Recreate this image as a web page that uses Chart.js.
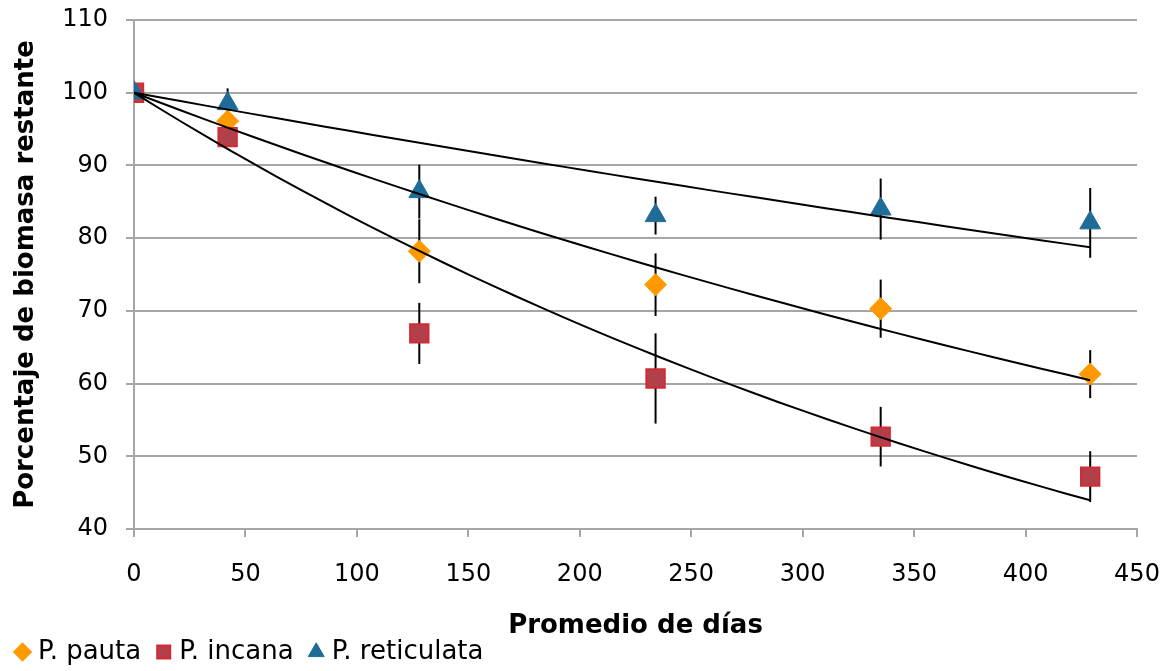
<!DOCTYPE html>
<html>
<head>
<meta charset="utf-8">
<script src="https://cdn.jsdelivr.net/npm/chart.js@4.4.0/dist/chart.umd.min.js"></script>
<style>
    html, body { margin: 0; padding: 0; background: #fff; }
    #wrap { width: 1175px; height: 671px; }
</style>
</head>
<body>
<div id="wrap"><canvas id="chart"></canvas></div>
<script>
// days since start, and % biomass remaining (mean +/- error) per species
const days = [0, 42, 128, 234, 335, 429];
const pauta = [100, 96.1, 78.2, 73.6, 70.3, 61.3];
const pautaErr = [0, 1.2, 4.4, 4.3, 4.0, 3.3];
const incana = [100, 93.9, 66.9, 60.7, 52.7, 47.2];
const incanaErr = [0, 1.0, 4.2, 6.2, 4.1, 3.5];
const reticulata = [100, 98.5, 86.4, 83.1, 84.0, 82.1];
const reticulataErr = [0, 2.1, 3.7, 2.6, 4.2, 4.8];
const seriesNames = ['P. pauta', 'P. incana', 'P. reticulata'];
const xTitle = 'Promedio de días';
const yTitle = 'Porcentaje de biomasa restante';

const FONT = 'DejaVu Sans, Verdana, sans-serif';
const GRID = '#a6a6a6';

// exponential trendline with intercept fixed at 100 (like the Excel fit)
function trendline(values) {
    let sxy = 0, sxx = 0;
    days.forEach((d, i) => {
        sxy += d * Math.log(values[i] / 100);
        sxx += d * d;
    });
    const k = sxy / sxx;
    const last = days[days.length - 1];
    const pts = [];
    for (let i = 0; i <= 40; i++) {
        const x = last * i / 40;
        pts.push({ x: x, y: 100 * Math.exp(k * x) });
    }
    return pts;
}

function toPoints(values) {
    return days.map((d, i) => ({ x: d, y: values[i] }));
}

const errors = [pautaErr, incanaErr, reticulataErr];

// vertical error bars, drawn under the markers
const errorBars = {
    id: 'errorBars',
    beforeDatasetsDraw(chart) {
        const ctx = chart.ctx;
        const xs = chart.scales.x;
        const ys = chart.scales.y;
        ctx.save();
        ctx.strokeStyle = '#000';
        ctx.lineWidth = 2;
        [pauta, incana, reticulata].forEach((vals, s) => {
            vals.forEach((v, i) => {
                const e = errors[s][i];
                if (!e) return;
                const px = xs.getPixelForValue(days[i]);
                ctx.beginPath();
                ctx.moveTo(px, ys.getPixelForValue(v + e));
                ctx.lineTo(px, ys.getPixelForValue(v - e));
                ctx.stroke();
            });
        });
        ctx.restore();
    }
};

function trendSet(values) {
    return {
        label: '',
        data: trendline(values),
        showLine: true,
        borderColor: '#000',
        borderWidth: 2,
        pointRadius: 0,
        order: 0
    };
}

new Chart(document.getElementById('chart'), {
    type: 'scatter',
    data: {
        datasets: [
            {
                label: seriesNames[0],
                data: toPoints(pauta),
                pointStyle: 'rectRot',
                pointRadius: 11,
                backgroundColor: '#ff9900',
                borderColor: '#ff9900',
                borderWidth: 1,
                order: 3
            },
            {
                label: seriesNames[1],
                data: toPoints(incana),
                pointStyle: 'rect',
                pointRadius: 13,
                backgroundColor: '#b2404a',
                borderColor: '#d42a35',
                borderWidth: 2,
                order: 2
            },
            {
                label: seriesNames[2],
                data: toPoints(reticulata),
                pointStyle: 'triangle',
                pointRadius: 12,
                backgroundColor: '#1f6c98',
                borderColor: '#1f6c98',
                borderWidth: 1,
                order: 1
            },
            trendSet(pauta),
            trendSet(incana),
            trendSet(reticulata)
        ]
    },
    options: {
        responsive: true,
        maintainAspectRatio: false,
        animation: false,
        events: [],
        layout: { padding: { left: 0, right: 38, top: 20, bottom: -4 } },
        plugins: {
            tooltip: { enabled: false },
            legend: {
                position: 'bottom',
                align: 'start',
                labels: {
                    usePointStyle: true,
                    boxWidth: 5,
                    boxHeight: 13,
                    padding: 20,
                    color: '#000',
                    font: { family: FONT, size: 26 },
                    filter: item => item.text !== '',
                    sort: (a, b) => a.datasetIndex - b.datasetIndex
                }
            }
        },
        scales: {
            x: {
                type: 'linear',
                min: 0,
                max: 450,
                ticks: { stepSize: 50, color: '#000', padding: 10, font: { family: FONT, size: 24, lineHeight: 2.35 } },
                grid: { drawOnChartArea: false, drawTicks: true, tickLength: 8, color: GRID, lineWidth: 2 },
                border: { color: GRID, width: 2 },
                title: {
                    display: true,
                    text: xTitle,
                    color: '#000',
                    font: { family: FONT, size: 26, weight: 'bold' },
                    padding: { top: 10, bottom: -23 }
                },
                afterFit: s => { s.height = 90; }
            },
            y: {
                min: 40,
                max: 110,
                ticks: { stepSize: 10, color: '#000', padding: 18, font: { family: FONT, size: 24, lineHeight: 0.1 } },
                grid: { color: GRID, lineWidth: 2, tickLength: 8 },
                border: { color: GRID, width: 2 },
                title: {
                    display: true,
                    text: yTitle,
                    color: '#000',
                    font: { family: FONT, size: 26, weight: 'bold' },
                    padding: { top: 11, bottom: 0 }
                },
                afterFit: s => { s.width = 134; }
            }
        }
    },
    plugins: [errorBars]
});
</script>
</body>
</html>
